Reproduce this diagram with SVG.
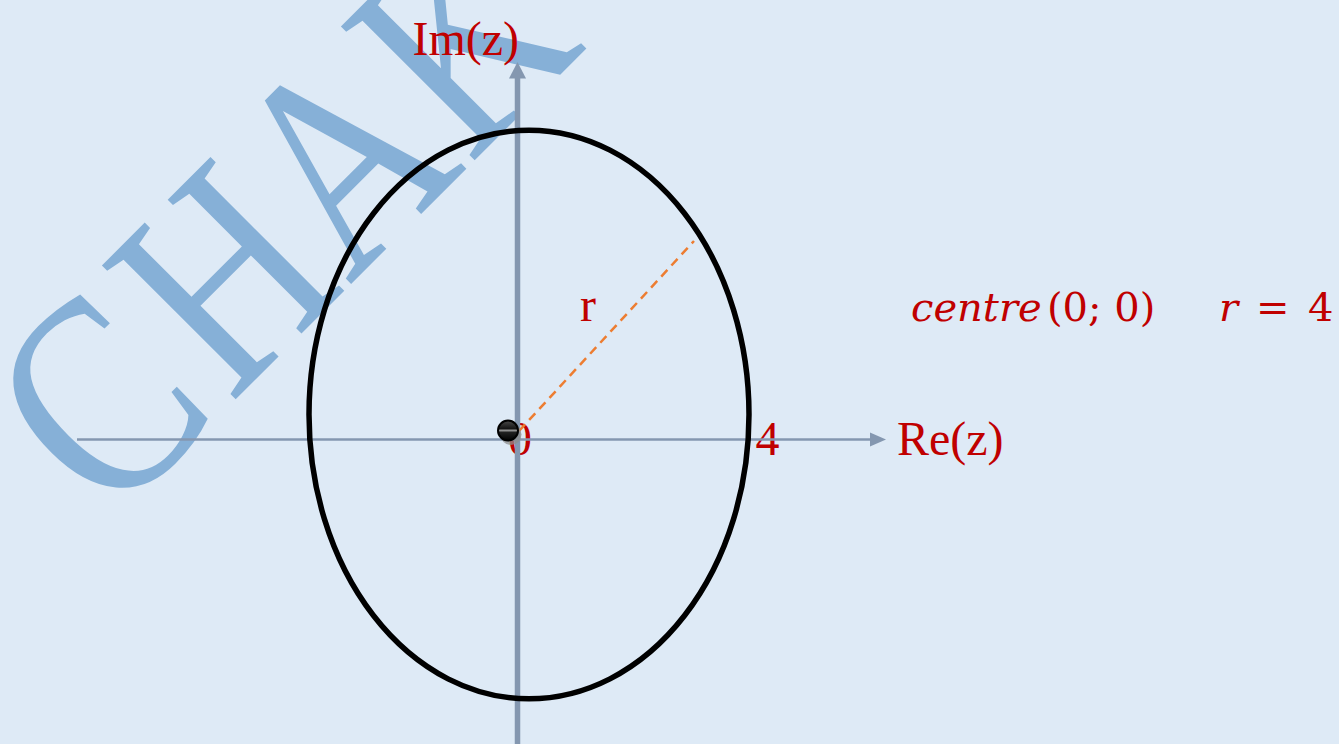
<svg xmlns="http://www.w3.org/2000/svg" width="1339" height="744" viewBox="0 0 1339 744">
  <defs>
    <style>
      .wm { font-family: "Liberation Serif", "Times New Roman", serif; font-size: 289px; fill: #86B0D7; }
      .lbl { font-family: "Liberation Serif", "Times New Roman", serif; font-size: 48px; fill: #C00000; }
      .math { font-family: "DejaVu Serif", serif; font-size: 40px; fill: #C00000; }
      .axis { stroke: #8497B0; fill: none; }
      .arrowhead { fill: #8497B0; }
    </style>
    <linearGradient id="ball" x1="0" y1="0" x2="0" y2="1">
      <stop offset="0" stop-color="#4a4a4a"/>
      <stop offset="0.4" stop-color="#151515"/>
      <stop offset="0.5" stop-color="#8f8f8f"/>
      <stop offset="0.6" stop-color="#202020"/>
      <stop offset="1" stop-color="#000000"/>
    </linearGradient>
  </defs>

  <rect x="0" y="0" width="1339" height="744" fill="#DEEAF6"/>

  <g id="watermark">
    <text class="wm" transform="translate(110,525) rotate(-45) scale(0.82,1)">C</text>
    <text class="wm" transform="translate(231,404) rotate(-45) scale(0.8,1)">H</text>
    <text class="wm" transform="translate(349.5,285.5) rotate(-45) scale(0.8,1)">A</text>
    <text class="wm" transform="translate(470,165) rotate(-45) scale(0.8,1)">K</text>
  </g>

  <g id="labels">
    <text id="label-im" class="lbl" x="412.5" y="55">Im(z)</text>
    <text id="label-re" class="lbl" x="897" y="455">Re(z)</text>
    <text id="label-0" class="lbl" x="508" y="455">0</text>
    <text id="label-4" class="lbl" x="755.5" y="455">4</text>
    <text id="label-r" class="lbl" x="580" y="321">r</text>
  </g>

  <g id="formula">
    <text class="math" x="911" y="321" font-style="italic">centre</text>
    <text class="math" x="1047" y="321">(0; 0)</text>
    <text class="math" x="1219" y="321" font-style="italic">r</text>
    <text class="math" x="1256" y="321">=</text>
    <text class="math" x="1308" y="321">4</text>
  </g>

  <g id="connectors">
    <line id="re-axis" class="axis" x1="77" y1="439.5" x2="872" y2="439.5" stroke-width="2.7"/>
    <polygon class="arrowhead" points="870,432.5 886,439.5 870,446.5"/>
    <line id="im-axis" class="axis" x1="517.5" y1="744" x2="517.5" y2="76" stroke-width="5.5"/>
    <polygon class="arrowhead" points="509,78.5 517.5,62 526,78.5"/>
    <line id="radius" x1="519" y1="431" x2="694" y2="241" stroke="#ED7D31" stroke-width="2.5" stroke-dasharray="9 6"/>
  </g>

  <g id="circle">
    <ellipse cx="529" cy="414.5" rx="220" ry="284.3" fill="none" stroke="#000000" stroke-width="5.5"/>
  </g>

  <g id="origin-point">
    <circle cx="511" cy="434.5" r="10.5" fill="#8c8c8c" opacity="0.75"/>
    <circle cx="508" cy="430.5" r="10" fill="url(#ball)" stroke="#000000" stroke-width="2"/>
  </g>
</svg>
